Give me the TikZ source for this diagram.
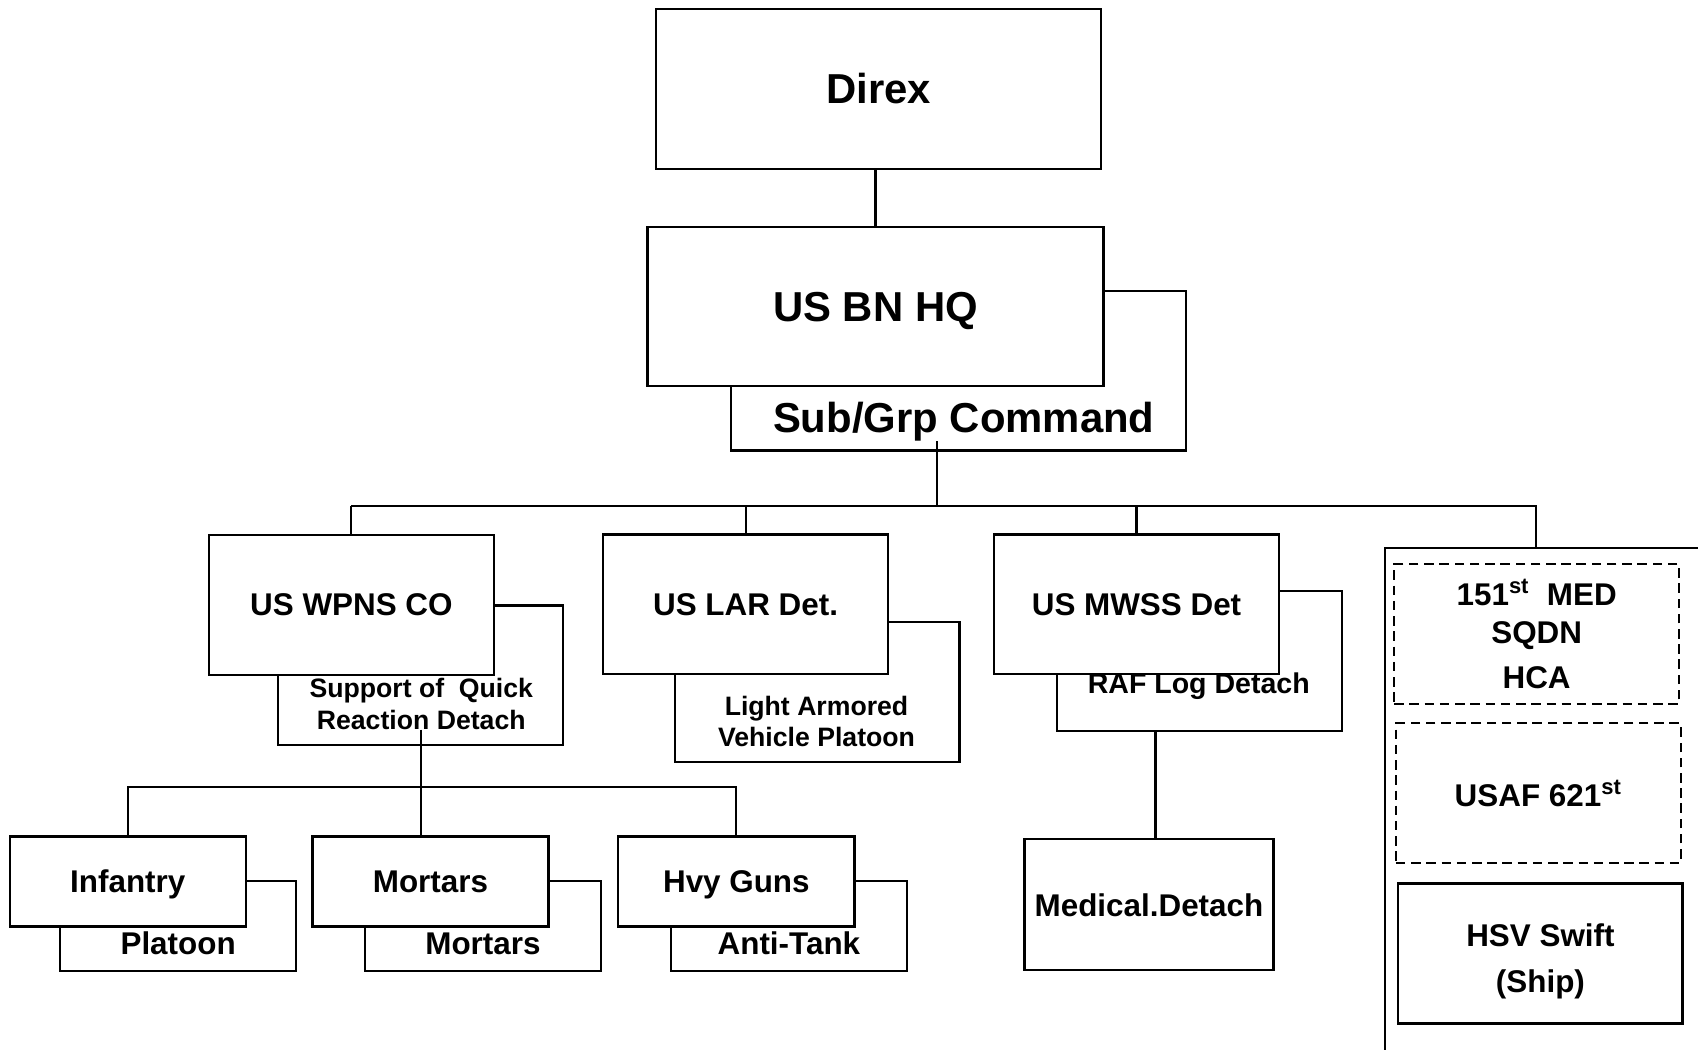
\documentclass[tikz,border=0pt]{standalone}
\usepackage{fontspec}
\setmainfont{Liberation Sans}
\newcommand\bigfont{\fontsize{22}{26}\selectfont\bfseries}
\newcommand\midfont{\fontsize{16.5}{20}\selectfont\bfseries}
\newcommand\smallfont{\fontsize{14}{16.4}\selectfont\bfseries}
\newcommand\raffont{\fontsize{15}{18}\selectfont\bfseries}
\tikzset{
 box/.style={draw, fill=white, line width=1.2pt, inner sep=0pt, align=center, minimum width=52.6mm, minimum height=25.8mm, font=\midfont},
 bigbox/.style={box, minimum width=84.2mm, minimum height=29.4mm, font=\bigfont, text height=15.8pt, text depth=0pt},
 smallbox/.style={box, minimum width=43.6mm, minimum height=16.6mm, text height=11.8pt, text depth=0pt},
 dashbox/.style={box, line width=1pt, dash pattern=on 5pt off 3pt},
 txt/.style={inner sep=0pt, align=center},
 link/.style={line width=1.1pt}
}
\begin{document}
\begin{tikzpicture}[x=0.2mm, y=-0.2mm]
\useasboundingbox (0,0) rectangle (1568,969);
\begin{scope}
\clip (0,0) rectangle (1568,969);
\node[box, minimum width=64.4mm, minimum height=110mm, anchor=north west] (panel) at (1278,505) {};
\end{scope}

\node[bigbox, minimum width=82.2mm, minimum height=29.6mm] (direx) at (811.5,82) {Direx};
\node[bigbox, minimum width=84mm] (sub) at (885,342.5) {};
\node[txt, font=\bigfont, anchor=base] (subtxt) at (890,399) {Sub/Grp Command};
\node[bigbox] (hq) at (808.5,283) {US BN HQ};

\node[box] (supp) at (388.5,623.5) {};
\node[txt, font=\smallfont] (supptxt) at (389,650) {Support of\ \ Quick\\Reaction Detach};
\node[box] (lav) at (754.5,639) {};
\node[txt, font=\smallfont] (lavtxt) at (754,666) {Light Armored\\Vehicle Platoon};
\node[box] (raf) at (1107.5,610.5) {};
\node[txt, font=\raffont, anchor=base] (raftxt) at (1107,640) {RAF Log Detach};

\node[box] (wpns) at (324.5,558.5) {US WPNS CO};
\node[box] (lar) at (688.5,558) {US LAR Det.};
\node[box] (mwss) at (1049.5,558) {US MWSS Det};
\node[box, minimum width=46mm, minimum height=24.2mm] (med) at (1061,835.5) {Medical.Detach};

\foreach \n/\x/\t in {plt/164.5/Platoon, mtb/446/Mortars, atk/728.5/Anti-Tank} {
 \node[smallbox] (\n) at (\x,855) {};
 \node[txt, font=\midfont, anchor=base] (\n txt) at (\x,881) {\t};
}
\foreach \n/\x/\t in {inf/118/Infantry, mor/397.5/Mortars, hvy/680/Hvy Guns}
 \node[smallbox] (\n) at (\x,814) {\t};

\node[dashbox] (sqdn) at (1419,585.5) {151\textsuperscript{st}\ \ MED\\SQDN\\[4pt]HCA};
\node[dashbox] (usaf) at (1420.5,732.5) {USAF 621\textsuperscript{st}};
\node[box, line width=1.5pt] (hsv) at (1422.5,880.5) {};
\node[txt, font=\midfont] (hsvtxt) at (1422.5,887.5) {HSV Swift\\[4pt](Ship)};

\draw[link] (hq.north) -- (hq.north |- direx.south);
\coordinate (bus) at (865,467);
\coordinate (busend) at (1418,467);
\draw[link] (subtxt.south -| bus) -- (bus);
\draw[link] (wpns.north |- bus) -- (busend) -- (busend |- panel.north);
\foreach \n in {wpns,lar,mwss}
 \draw[link] (\n.north) -- (\n.north |- bus);
\coordinate (bus2) at (389,727);
\draw[link] (supptxt.south -| bus2) -- (bus2 |- mor.north);
\draw[link] (inf.north) |- (bus2) -| (hvy.north);
\draw[link] ([xshift=1.2mm]med.north) -- ([xshift=1.2mm]med.north |- raf.south);
\end{tikzpicture}
\end{document}
